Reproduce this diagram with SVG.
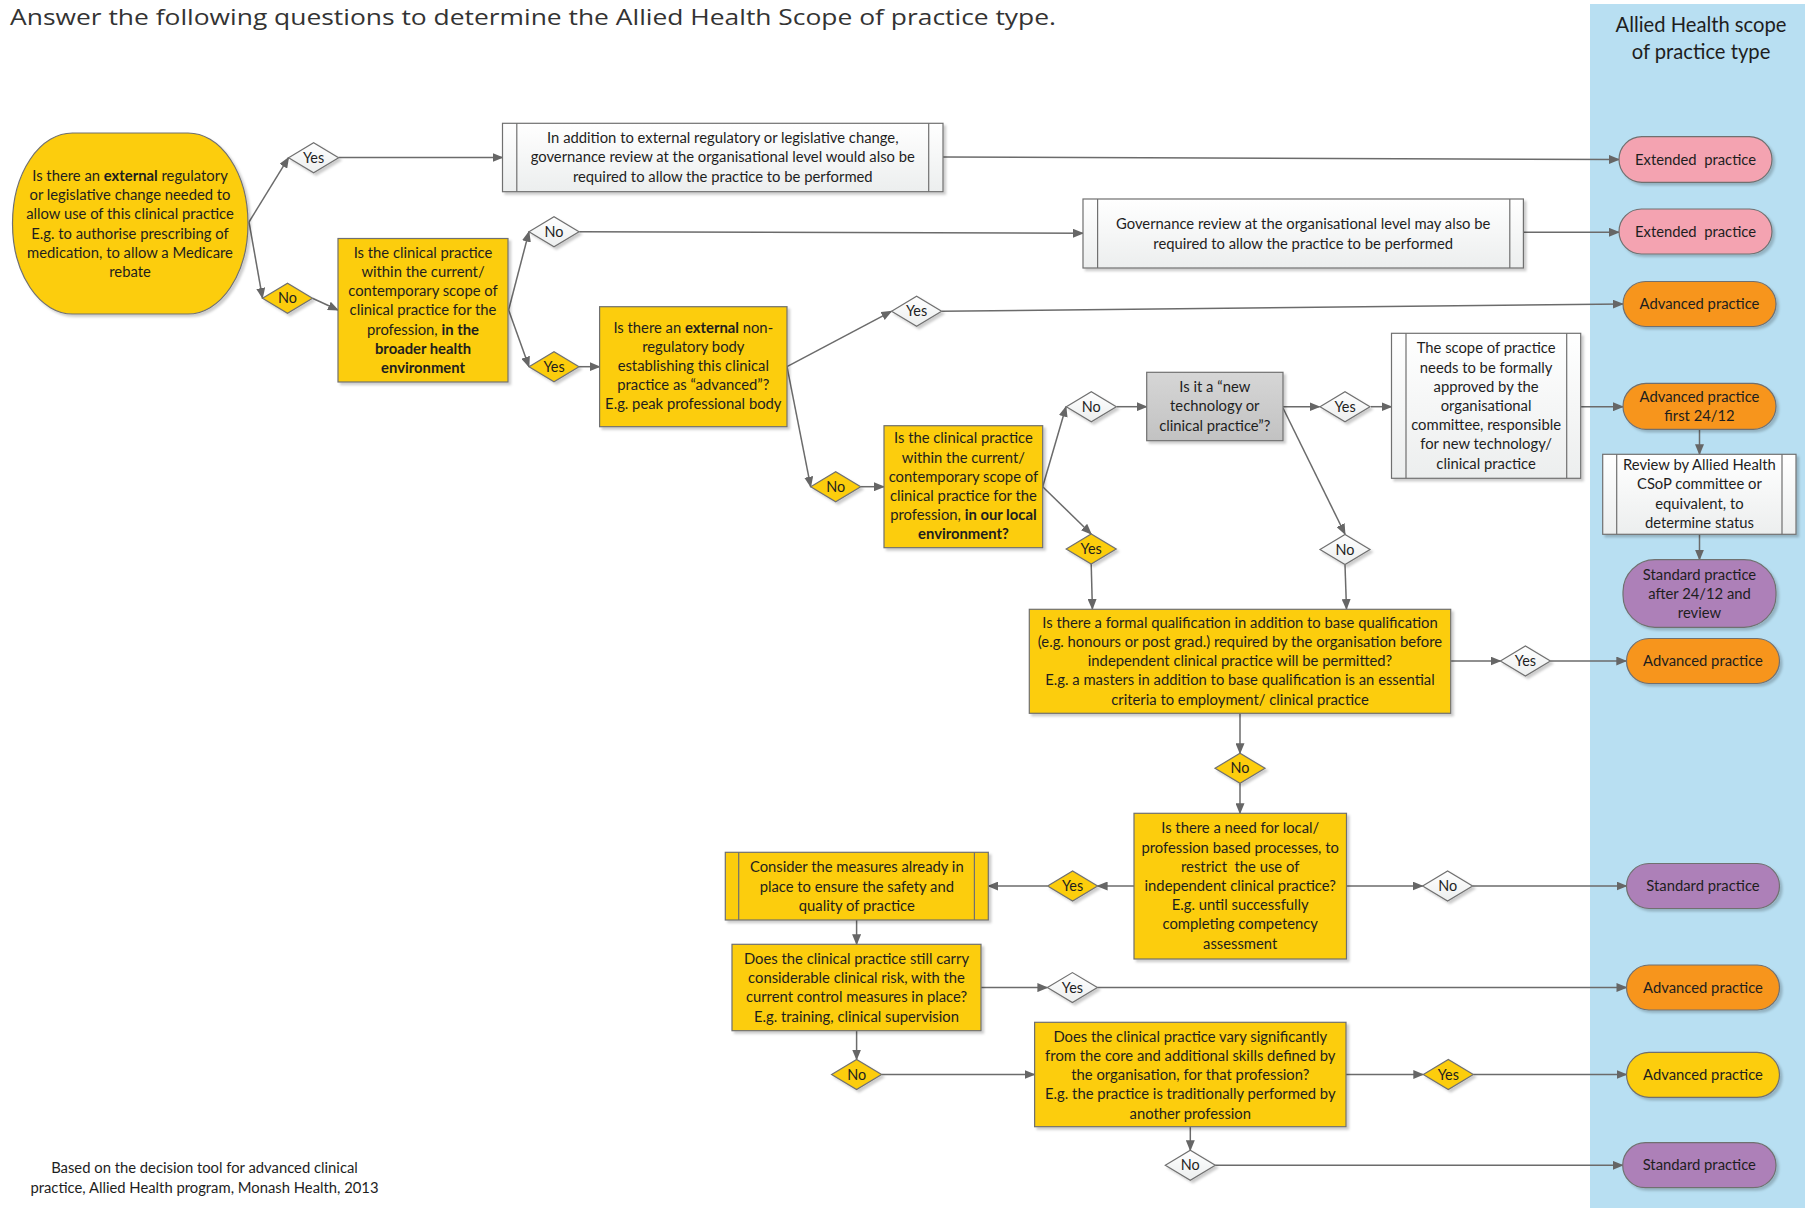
<svg xmlns="http://www.w3.org/2000/svg" width="1805" height="1208" viewBox="0 0 1805 1208">
<defs>
  <marker id="ah" markerUnits="userSpaceOnUse" markerWidth="11" markerHeight="9" refX="10" refY="4.5" orient="auto">
    <path d="M0,0 L11,4.5 L0,9 Z" fill="#666"/>
  </marker>
  <filter id="sh" x="-10%" y="-10%" width="130%" height="140%">
    <feDropShadow dx="2.5" dy="2.5" stdDeviation="1.2" flood-color="#000" flood-opacity="0.2"/>
  </filter>
  <linearGradient id="gw" x1="0" y1="0" x2="0" y2="1">
    <stop offset="0" stop-color="#ffffff"/>
    <stop offset="1" stop-color="#eceeee"/>
  </linearGradient>
  <linearGradient id="gg" x1="0" y1="0" x2="0" y2="1">
    <stop offset="0" stop-color="#d6d6d6"/>
    <stop offset="1" stop-color="#c2c2c2"/>
  </linearGradient>
  <style>
    .c { fill:none; stroke:#6b6b6b; stroke-width:1.5; marker-end:url(#ah); }
    .s { stroke:#707070; stroke-width:1.2; filter:url(#sh); }
    .q { fill:#fccd07; }
    .w { fill:url(#gw); }
    .g { fill:url(#gg); }
    .pk { fill:#f4a3b1; }
    .or { fill:#f7951f; }
    .pu { fill:#ad80b8; }
    .bar { fill:none; stroke:#707070; stroke-width:1.2; }
    .t { font-family:Lato, "Liberation Sans", sans-serif; font-size:14.8px; fill:#1e1e1e; text-anchor:middle; }
    .d { font-family:Lato, "Liberation Sans", sans-serif; font-size:14.4px; fill:#1e1e1e; text-anchor:middle; }
    .b { font-weight:700; }
  </style>
</defs>

<rect width="1805" height="1208" fill="#ffffff"/>

<!-- outcome column -->
<g id="outcome-column">
  <rect x="1590" y="4" width="215" height="1204" fill="#b8dff2"/>
  <text class="t" x="1701" y="31.5" style="font-size:20.2px">Allied Health scope</text>
  <text class="t" x="1701" y="58.5" style="font-size:20.2px">of practice type</text>
</g>

<text x="10" y="25" font-family="'Open Sans', Lato, sans-serif" font-size="21.5" fill="#333" textLength="1046" lengthAdjust="spacingAndGlyphs">Answer the following questions to determine the Allied Health Scope of practice type.</text>

<!-- connectors -->
<g id="connectors">
  <path class="c" d="M249,222 L288.6,157.7"/>
  <path class="c" d="M338.6,157.5 L502.5,157.5"/>
  <path class="c" d="M943,157 L1619,159.5"/>
  <path class="c" d="M249,222 L262.5,298"/>
  <path class="c" d="M312.5,298.3 L338,310"/>
  <path class="c" d="M508.6,310 L529,231.7"/>
  <path class="c" d="M579.3,231.7 L1083,233.3"/>
  <path class="c" d="M1523.4,232.3 L1619,232.3"/>
  <path class="c" d="M508.6,310 L529,366.7"/>
  <path class="c" d="M579,366.7 L599.6,366.7"/>
  <path class="c" d="M787,366.7 L891.4,311.3"/>
  <path class="c" d="M941.8,311.3 L1623,304"/>
  <path class="c" d="M787,366.7 L810.7,486.7"/>
  <path class="c" d="M860.7,486.7 L884,486.7"/>
  <path class="c" d="M1042.7,486.7 L1066,406.7"/>
  <path class="c" d="M1116.7,406.7 L1146.7,406.7"/>
  <path class="c" d="M1283,406.7 L1319.5,406.7"/>
  <path class="c" d="M1371,406.7 L1391.5,406.7"/>
  <path class="c" d="M1580.7,406.7 L1623,406.7"/>
  <path class="c" d="M1699.5,429.3 L1699.5,454.3"/>
  <path class="c" d="M1699.5,534.3 L1699.5,559.7"/>
  <path class="c" d="M1283,408 L1345,534"/>
  <path class="c" d="M1345,565 L1346.5,609"/>
  <path class="c" d="M1042.7,486.7 L1091.2,534"/>
  <path class="c" d="M1091.2,564 L1092.4,609"/>
  <path class="c" d="M1450.7,661 L1500.5,661"/>
  <path class="c" d="M1550.3,661 L1626.3,661"/>
  <path class="c" d="M1240,713.3 L1240,753.3"/>
  <path class="c" d="M1240,783.3 L1240,813.3"/>
  <path class="c" d="M1346.5,886 L1422.6,886"/>
  <path class="c" d="M1472.6,886 L1626.5,886"/>
  <path class="c" d="M1134,886 L1097.6,886"/>
  <path class="c" d="M1047.6,886 L988.3,886"/>
  <path class="c" d="M856.6,920 L856.6,944.3"/>
  <path class="c" d="M981,987.6 L1047.4,987.6"/>
  <path class="c" d="M1097.4,987.6 L1626.5,987.5"/>
  <path class="c" d="M856.6,1030.7 L856.6,1059.5"/>
  <path class="c" d="M881.6,1074.5 L1034.6,1074.5"/>
  <path class="c" d="M1346,1074.5 L1423.3,1074.5"/>
  <path class="c" d="M1473.3,1074.5 L1626.5,1074.5"/>
  <path class="c" d="M1190.3,1126.7 L1190.3,1150.3"/>
  <path class="c" d="M1215.3,1165.3 L1622.7,1165.3"/>
</g>

<!-- question: external regulatory change -->
<g id="q-external-regulatory">
  <rect class="s q" x="12.5" y="133" width="235.5" height="181" rx="60" ry="90.5"/>
  <text class="t" x="130" y="181">Is there an <tspan class="b">external</tspan> regulatory</text>
  <text class="t" x="130" y="200.2">or legislative change needed to</text>
  <text class="t" x="130" y="219.4">allow use of this clinical practice</text>
  <text class="t" x="130" y="238.6">E.g. to authorise prescribing of</text>
  <text class="t" x="130" y="257.8">medication, to allow a Medicare</text>
  <text class="t" x="130" y="277">rebate</text>
</g>

<!-- question: broader scope -->
<g id="q-broader-scope">
  <rect class="s q" x="338" y="238.5" width="170" height="143.5"/>
  <text class="t" x="423" y="257.7">Is the clinical practice</text>
  <text class="t" x="423" y="276.9">within the current/</text>
  <text class="t" x="423" y="296.1">contemporary scope of</text>
  <text class="t" x="423" y="315.3">clinical practice for the</text>
  <text class="t" x="423" y="334.5">profession, <tspan class="b">in the</tspan></text>
  <text class="t b" x="423" y="353.7">broader health</text>
  <text class="t b" x="423" y="372.9">environment</text>
</g>

<!-- process: governance review with external change -->
<g id="p-governance-external">
  <rect class="s w" x="502.5" y="123.3" width="440.5" height="68.4"/>
  <path class="bar" d="M516.8,123.3 V191.7 M928.7,123.3 V191.7"/>
  <text class="t" x="722.8" y="142.7">In addition to external regulatory or legislative change,</text>
  <text class="t" x="722.8" y="162.2">governance review at the organisational level would also be</text>
  <text class="t" x="722.8" y="181.7">required to allow the practice to be performed</text>
</g>

<!-- process: governance review -->
<g id="p-governance">
  <rect class="s w" x="1083" y="199" width="440.4" height="69"/>
  <path class="bar" d="M1097.6,199 V268 M1509.8,199 V268"/>
  <text class="t" x="1303.2" y="228.8">Governance review at the organisational level may also be</text>
  <text class="t" x="1303.2" y="248.5">required to allow the practice to be performed</text>
</g>

<!-- question: external non-regulatory body -->
<g id="q-non-regulatory">
  <rect class="s q" x="599.6" y="306.7" width="187.4" height="120"/>
  <text class="t" x="693.3" y="332.5">Is there an <tspan class="b">external</tspan> non-</text>
  <text class="t" x="693.3" y="351.7">regulatory body</text>
  <text class="t" x="693.3" y="370.9">establishing this clinical</text>
  <text class="t" x="693.3" y="390.1">practice as “advanced”?</text>
  <text class="t" x="693.3" y="409.3">E.g. peak professional body</text>
</g>

<!-- question: local scope -->
<g id="q-local-scope">
  <rect class="s q" x="884" y="425.7" width="158.7" height="122"/>
  <text class="t" x="963.4" y="443.3">Is the clinical practice</text>
  <text class="t" x="963.4" y="462.5">within the current/</text>
  <text class="t" x="963.4" y="481.7">contemporary scope of</text>
  <text class="t" x="963.4" y="500.9">clinical practice for the</text>
  <text class="t" x="963.4" y="520.1">profession, <tspan class="b">in our local</tspan></text>
  <text class="t b" x="963.4" y="539.3">environment?</text>
</g>

<!-- question: new technology -->
<g id="q-new-technology">
  <rect class="s g" x="1146.7" y="372.3" width="136.3" height="68.4"/>
  <text class="t" x="1214.8" y="392.2">Is it a “new</text>
  <text class="t" x="1214.8" y="411.4">technology or</text>
  <text class="t" x="1214.8" y="430.6">clinical practice”?</text>
</g>

<!-- process: formal approval -->
<g id="p-formal-approval">
  <rect class="s w" x="1391.5" y="333.3" width="189.2" height="145"/>
  <path class="bar" d="M1406,333.3 V478.3 M1566.7,333.3 V478.3"/>
  <text class="t" x="1486.1" y="353.3">The scope of practice</text>
  <text class="t" x="1486.1" y="372.5">needs to be formally</text>
  <text class="t" x="1486.1" y="391.7">approved by the</text>
  <text class="t" x="1486.1" y="410.9">organisational</text>
  <text class="t" x="1486.1" y="430.1">committee, responsible</text>
  <text class="t" x="1486.1" y="449.3">for new technology/</text>
  <text class="t" x="1486.1" y="468.5">clinical practice</text>
</g>

<!-- process: CSoP review -->
<g id="p-csop-review">
  <rect class="s w" x="1602.7" y="454.3" width="193.3" height="80"/>
  <path class="bar" d="M1616.7,454.3 V534.3 M1782,454.3 V534.3"/>
  <text class="t" x="1699.4" y="470.2">Review by Allied Health</text>
  <text class="t" x="1699.4" y="489.4">CSoP committee or</text>
  <text class="t" x="1699.4" y="508.6">equivalent, to</text>
  <text class="t" x="1699.4" y="527.8">determine status</text>
</g>

<!-- question: formal qualification -->
<g id="q-qualification">
  <rect class="s q" x="1029.3" y="609.3" width="421.4" height="104"/>
  <text class="t" x="1240" y="627.7">Is there a formal qualification in addition to base qualification</text>
  <text class="t" x="1240" y="646.9">(e.g. honours or post grad.) required by the organisation before</text>
  <text class="t" x="1240" y="666.1">independent clinical practice will be permitted?</text>
  <text class="t" x="1240" y="685.3">E.g. a masters in addition to base qualification is an essential</text>
  <text class="t" x="1240" y="704.5">criteria to employment/ clinical practice</text>
</g>

<!-- question: local restriction processes -->
<g id="q-local-processes">
  <rect class="s q" x="1134" y="813.3" width="212.5" height="145.7"/>
  <text class="t" x="1240.2" y="833.3">Is there a need for local/</text>
  <text class="t" x="1240.2" y="852.5">profession based processes, to</text>
  <text class="t" x="1240.2" y="871.7" xml:space="preserve">restrict  the use of</text>
  <text class="t" x="1240.2" y="890.9">independent clinical practice?</text>
  <text class="t" x="1240.2" y="910.1">E.g. until successfully</text>
  <text class="t" x="1240.2" y="929.3">completing competency</text>
  <text class="t" x="1240.2" y="948.5">assessment</text>
</g>

<!-- process: existing measures -->
<g id="p-existing-measures">
  <rect class="s q" x="725.3" y="852.3" width="263" height="67.7"/>
  <path class="bar" d="M738.7,852.3 V920 M974.4,852.3 V920"/>
  <text class="t" x="856.8" y="872.3">Consider the measures already in</text>
  <text class="t" x="856.8" y="891.5">place to ensure the safety and</text>
  <text class="t" x="856.8" y="910.7">quality of practice</text>
</g>

<!-- question: residual clinical risk -->
<g id="q-clinical-risk">
  <rect class="s q" x="732" y="944.3" width="249" height="86.4"/>
  <text class="t" x="856.5" y="964">Does the clinical practice still carry</text>
  <text class="t" x="856.5" y="983.2">considerable clinical risk, with the</text>
  <text class="t" x="856.5" y="1002.4">current control measures in place?</text>
  <text class="t" x="856.5" y="1021.6">E.g. training, clinical supervision</text>
</g>

<!-- question: variation from core skills -->
<g id="q-core-skills">
  <rect class="s q" x="1034.6" y="1022.3" width="311.4" height="104.4"/>
  <text class="t" x="1190.3" y="1041.7">Does the clinical practice vary significantly</text>
  <text class="t" x="1190.3" y="1060.9">from the core and additional skills defined by</text>
  <text class="t" x="1190.3" y="1080.1">the organisation, for that profession?</text>
  <text class="t" x="1190.3" y="1099.3">E.g. the practice is traditionally performed by</text>
  <text class="t" x="1190.3" y="1118.5">another profession</text>
</g>

<!-- decision labels -->
<g id="d-yes-1"><path class="s w" d="M288.6,157.7 L313.6,142.7 L338.6,157.7 L313.6,172.7 Z"/><text class="d" x="313.6" y="162.7">Yes</text></g>
<g id="d-no-1"><path class="s q" d="M262.5,298.3 L287.5,283.3 L312.5,298.3 L287.5,313.3 Z"/><text class="d" x="287.5" y="303.3">No</text></g>
<g id="d-no-2"><path class="s w" d="M529,231.7 L554,216.7 L579,231.7 L554,246.7 Z"/><text class="d" x="554" y="236.7">No</text></g>
<g id="d-yes-2"><path class="s q" d="M529,366.7 L554,351.7 L579,366.7 L554,381.7 Z"/><text class="d" x="554" y="371.7">Yes</text></g>
<g id="d-yes-3"><path class="s w" d="M891.6,311.3 L916.6,296.3 L941.6,311.3 L916.6,326.3 Z"/><text class="d" x="916.6" y="316.3">Yes</text></g>
<g id="d-no-3"><path class="s q" d="M810.7,486.7 L835.7,471.7 L860.7,486.7 L835.7,501.7 Z"/><text class="d" x="835.7" y="491.7">No</text></g>
<g id="d-no-4"><path class="s w" d="M1066.3,406.7 L1091.3,391.7 L1116.3,406.7 L1091.3,421.7 Z"/><text class="d" x="1091.3" y="411.7">No</text></g>
<g id="d-yes-4"><path class="s w" d="M1320,406.7 L1345,391.7 L1370,406.7 L1345,421.7 Z"/><text class="d" x="1345" y="411.7">Yes</text></g>
<g id="d-yes-5"><path class="s q" d="M1066.2,549 L1091.2,534 L1116.2,549 L1091.2,564 Z"/><text class="d" x="1091.2" y="554">Yes</text></g>
<g id="d-no-5"><path class="s w" d="M1320,549.5 L1345,534.5 L1370,549.5 L1345,564.5 Z"/><text class="d" x="1345" y="554.5">No</text></g>
<g id="d-yes-6"><path class="s w" d="M1500.4,661 L1525.4,646 L1550.4,661 L1525.4,676 Z"/><text class="d" x="1525.4" y="666">Yes</text></g>
<g id="d-no-6"><path class="s q" d="M1215,768.3 L1240,753.3 L1265,768.3 L1240,783.3 Z"/><text class="d" x="1240" y="773.3">No</text></g>
<g id="d-no-7"><path class="s w" d="M1422.6,886 L1447.6,871 L1472.6,886 L1447.6,901 Z"/><text class="d" x="1447.6" y="891">No</text></g>
<g id="d-yes-7"><path class="s q" d="M1047.6,886 L1072.6,871 L1097.6,886 L1072.6,901 Z"/><text class="d" x="1072.6" y="891">Yes</text></g>
<g id="d-yes-8"><path class="s w" d="M1047.4,987.6 L1072.4,972.6 L1097.4,987.6 L1072.4,1002.6 Z"/><text class="d" x="1072.4" y="992.6">Yes</text></g>
<g id="d-no-8"><path class="s q" d="M831.6,1074.5 L856.6,1059.5 L881.6,1074.5 L856.6,1089.5 Z"/><text class="d" x="856.6" y="1079.5">No</text></g>
<g id="d-yes-9"><path class="s q" d="M1423.3,1074.5 L1448.3,1059.5 L1473.3,1074.5 L1448.3,1089.5 Z"/><text class="d" x="1448.3" y="1079.5">Yes</text></g>
<g id="d-no-9"><path class="s w" d="M1165.3,1165.3 L1190.3,1150.3 L1215.3,1165.3 L1190.3,1180.3 Z"/><text class="d" x="1190.3" y="1170.3">No</text></g>

<!-- outcomes -->
<g id="o-extended-1"><rect class="s pk" x="1619" y="136.7" width="153" height="45.6" rx="22.8"/><text class="t" x="1695.5" y="164.5" xml:space="preserve">Extended  practice</text></g>
<g id="o-extended-2"><rect class="s pk" x="1619" y="209" width="153" height="45" rx="22.5"/><text class="t" x="1695.5" y="236.5" xml:space="preserve">Extended  practice</text></g>
<g id="o-advanced-1"><rect class="s or" x="1623" y="281.5" width="153" height="45" rx="22.5"/><text class="t" x="1699.5" y="309">Advanced practice</text></g>
<g id="o-advanced-first"><rect class="s or" x="1623" y="383.3" width="153" height="46" rx="23"/><text class="t" x="1699.5" y="401.7">Advanced practice</text><text class="t" x="1699.5" y="420.5">first 24/12</text></g>
<g id="o-standard-after"><rect class="s pu" x="1623" y="559.7" width="153" height="67.6" rx="32"/><text class="t" x="1699.5" y="579.5">Standard practice</text><text class="t" x="1699.5" y="598.7">after 24/12 and</text><text class="t" x="1699.5" y="617.9">review</text></g>
<g id="o-advanced-2"><rect class="s or" x="1626.5" y="638.5" width="153" height="45" rx="22.5"/><text class="t" x="1703" y="666">Advanced practice</text></g>
<g id="o-standard-1"><rect class="s pu" x="1626.5" y="863.5" width="153" height="45" rx="22.5"/><text class="t" x="1703" y="891">Standard practice</text></g>
<g id="o-advanced-3"><rect class="s or" x="1626.5" y="965" width="153" height="45" rx="22.5"/><text class="t" x="1703" y="992.5">Advanced practice</text></g>
<g id="o-advanced-4"><rect class="s q" x="1626.5" y="1052.3" width="153" height="45" rx="22.5"/><text class="t" x="1703" y="1079.8">Advanced practice</text></g>
<g id="o-standard-2"><rect class="s pu" x="1622.7" y="1142.7" width="153.3" height="45" rx="22.5"/><text class="t" x="1699.3" y="1170.2">Standard practice</text></g>

<!-- source note -->
<g id="source-note">
  <text class="t" x="204.5" y="1173.3">Based on the decision tool for advanced clinical</text>
  <text class="t" x="204.5" y="1193.3">practice, Allied Health program, Monash Health, 2013</text>
</g>
</svg>
